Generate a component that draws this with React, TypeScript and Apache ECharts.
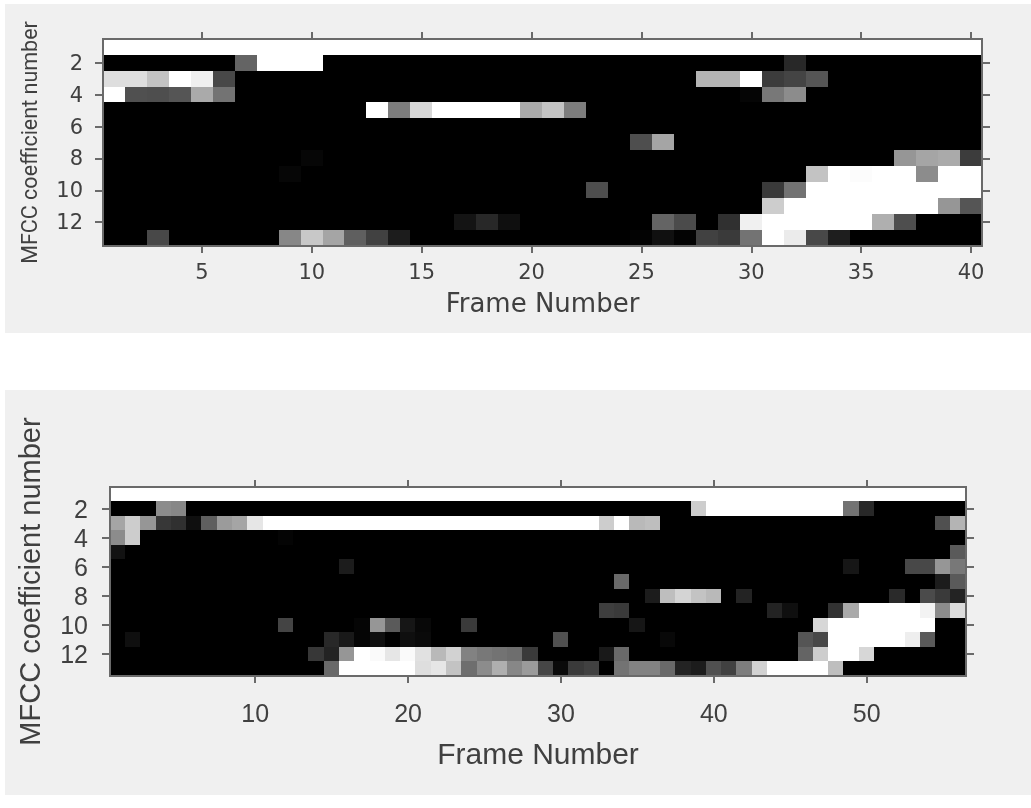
import React, { useEffect, useRef } from "react";
import * as echarts from "echarts";

// Each run: [row, first frame, ...grey levels]. Cells not listed are black.
const upperRuns: number[][] = [
  [1, 1, 255, 255, 255, 255, 255, 255, 255, 255, 255, 255, 255, 255, 255, 255, 255, 255, 255, 255, 255, 255, 255, 255, 255, 255, 255, 255, 255, 255, 255, 255, 255, 255, 255, 255, 255, 255, 255, 255, 255, 255],
  [2, 7, 100, 255, 255, 255],
  [2, 32, 40],
  [3, 1, 222, 222, 195, 255, 240, 72],
  [3, 28, 180, 180, 255, 60, 68, 85],
  [4, 1, 255, 80, 78, 85, 170, 115],
  [4, 30, 5, 120, 140],
  [5, 13, 255, 125, 215, 255, 255, 255, 255, 170, 195, 125],
  [7, 25, 78, 165],
  [8, 10, 6],
  [8, 37, 150, 165, 170, 60],
  [9, 9, 6],
  [9, 33, 195, 255, 252, 255, 255, 140, 255, 255],
  [10, 23, 78],
  [10, 31, 58, 115, 255, 255, 255, 255, 255, 255, 255, 255],
  [11, 31, 205, 255, 255, 255, 255, 255, 255, 255, 150, 85],
  [12, 17, 20, 40, 15],
  [12, 26, 100, 75, 0, 48, 240, 255, 255, 255, 255, 255, 175, 78],
  [13, 3, 72],
  [13, 9, 135, 200, 165, 95, 65, 28],
  [13, 25, 3, 16, 3, 65, 58, 115, 255, 235, 72, 30],
];

const lowerRuns: number[][] = [
  [1, 1, 255, 255, 255, 255, 255, 255, 255, 255, 255, 255, 255, 255, 255, 255, 255, 255, 255, 255, 255, 255, 255, 255, 255, 255, 255, 255, 255, 255, 255, 255, 255, 255, 255, 255, 255, 255, 255, 255, 255, 255, 255, 255, 255, 255, 255, 255, 255, 255, 255, 255, 255, 255, 255, 255, 255, 255],
  [2, 4, 140, 135],
  [2, 39, 205, 255, 255, 255, 255, 255, 255, 255, 255, 255, 115, 40],
  [3, 1, 165, 205, 150, 55, 48, 15, 95, 155, 165, 230, 255, 255, 255, 255, 255, 255, 255, 255, 255, 255, 255, 255, 255, 255, 255, 255, 255, 255, 255, 255, 255, 255, 205, 255, 185, 190],
  [3, 55, 80, 180],
  [4, 1, 140, 205],
  [4, 12, 4],
  [5, 1, 18],
  [5, 56, 90],
  [6, 16, 28],
  [6, 49, 22],
  [6, 53, 72, 72, 150, 120],
  [7, 34, 105],
  [7, 55, 28, 90],
  [8, 36, 28, 190, 212, 195, 185],
  [8, 42, 35],
  [8, 52, 42],
  [8, 54, 75, 58, 35],
  [9, 33, 62, 58],
  [9, 44, 35, 15],
  [9, 48, 50, 170, 255, 255, 255, 255, 243, 140, 220],
  [10, 12, 68],
  [10, 17, 5, 150, 90, 22, 8],
  [10, 24, 58],
  [10, 35, 22],
  [10, 47, 215, 255, 255, 255, 255, 255, 255, 255],
  [11, 2, 15],
  [11, 15, 40, 25, 5, 15, 0, 15, 10],
  [11, 30, 80],
  [11, 37, 8],
  [11, 46, 85, 72, 255, 255, 255, 255, 255, 238, 90],
  [12, 14, 55, 35, 150, 255, 250, 230, 250, 225, 185, 210, 130, 120, 115, 110, 58],
  [12, 33, 25, 105],
  [12, 46, 100, 205, 255, 255, 215],
  [13, 15, 105, 255, 255, 255, 255, 255, 222, 230, 195, 110, 140, 175, 135, 155, 70, 10, 58, 65, 0, 115, 130, 130, 105, 35, 28, 80, 65, 125, 210, 255, 255, 255, 255, 190],
];

const coefficientCount = 13;
const upperFrameCount = 40;
const lowerFrameCount = 56;
const upperFrameStep = 5;
const lowerFrameStep = 10;
const coefficientStep = 2;
const xTitle = "Frame Number";
const yTitle = "MFCC coefficient number";

const TEXT = "#404040";
const LINE = "#6a6a6a";

function cellsFrom(runs: number[][], frames: number): number[][] {
  const grid = new Map<string, number>();
  for (const [row, first, ...levels] of runs) {
    levels.forEach((v, i) => grid.set(`${first + i}-${row}`, v));
  }
  const cells: number[][] = [];
  for (let r = 1; r <= coefficientCount; r++) {
    for (let f = 1; f <= frames; f++) {
      cells.push([f - 1, r - 1, grid.get(`${f}-${r}`) ?? 0]);
    }
  }
  return cells;
}

const labels = (n: number) => Array.from({ length: n }, (_, i) => String(i + 1));
const every = (step: number) => (_: number, value: string) => Number(value) % step === 0;

function axesFor(
  gridIndex: number,
  frames: number,
  xStep: number,
  tickFont: Record<string, unknown>,
  nameFontX: Record<string, unknown>,
  nameFontY: Record<string, unknown>,
  xMargin: number,
  yMargin: number,
  xGap: number,
  yGap: number
) {
  const line = { show: true, onZero: false, lineStyle: { color: LINE, width: 1.5 } };
  const xTick = { show: true, length: 7, alignWithLabel: true, interval: every(xStep), lineStyle: { color: LINE, width: 1.5 } };
  const yTick = { show: true, length: 8, alignWithLabel: true, interval: every(coefficientStep), lineStyle: { color: LINE, width: 1.5 } };
  const xBase = { type: "category", gridIndex, data: labels(frames), axisLine: line, axisTick: xTick, splitLine: { show: false }, z: 5 };
  const yBase = { type: "category", gridIndex, inverse: true, data: labels(coefficientCount), axisLine: line, axisTick: yTick, splitLine: { show: false }, z: 5 };
  return {
    x: [
      {
        ...xBase,
        position: "bottom",
        name: xTitle,
        nameLocation: "middle",
        nameGap: xGap,
        nameTextStyle: { color: TEXT, ...nameFontX },
        axisLabel: { show: true, interval: every(xStep), margin: xMargin, color: TEXT, hideOverlap: false, ...tickFont },
      },
      { ...xBase, position: "top", axisLabel: { show: false } },
    ],
    y: [
      {
        ...yBase,
        position: "left",
        name: yTitle,
        nameLocation: "middle",
        nameGap: yGap,
        nameRotate: 90,
        nameTextStyle: { color: TEXT, ...nameFontY },
        axisLabel: { show: true, interval: every(coefficientStep), margin: yMargin, color: TEXT, hideOverlap: false, ...tickFont },
      },
      { ...yBase, position: "right", axisLabel: { show: false } },
    ],
  };
}

export default function App() {
  const ref = useRef<HTMLDivElement>(null);

  useEffect(() => {
    document.body.style.margin = "0";
    document.body.style.background = "#ffffff";
    const chart = echarts.init(ref.current!, undefined, { renderer: "svg" });

    const upper = axesFor(
      0, upperFrameCount, upperFrameStep,
      { fontFamily: "DejaVu Sans", fontSize: 21 },
      { fontFamily: "DejaVu Sans", fontSize: 26 },
      { fontFamily: "Roboto", fontSize: 21.5 },
      15, 20, 44, 63
    );
    const lower = axesFor(
      1, lowerFrameCount, lowerFrameStep,
      { fontFamily: "Liberation Sans", fontSize: 25 },
      { fontFamily: "Liberation Sans", fontSize: 30 },
      { fontFamily: "Liberation Sans", fontSize: 29 },
      24, 22, 62, 66
    );

    chart.setOption({
      animation: false,
      backgroundColor: "#ffffff",
      graphic: [
        { type: "rect", z: -10, shape: { x: 5, y: 4, width: 1026, height: 329 }, style: { fill: "#f0f0f0" } },
        { type: "rect", z: -10, shape: { x: 5, y: 390, width: 1026, height: 405 }, style: { fill: "#f0f0f0" } },
      ],
      grid: [
        { left: 103, top: 39, width: 879, height: 207, outerBoundsMode: "none" },
        { left: 110, top: 487, width: 856, height: 189, outerBoundsMode: "none" },
      ],
      xAxis: [...upper.x, ...lower.x],
      yAxis: [...upper.y, ...lower.y],
      visualMap: {
        show: false,
        type: "continuous",
        min: 0,
        max: 255,
        dimension: 2,
        seriesIndex: [0, 1],
        inRange: { color: ["#000000", "#ffffff"] },
      },
      series: [
        {
          type: "heatmap",
          xAxisIndex: 0,
          yAxisIndex: 0,
          data: cellsFrom(upperRuns, upperFrameCount),
          emphasis: { disabled: true },
          progressive: 0,
        },
        {
          type: "heatmap",
          xAxisIndex: 2,
          yAxisIndex: 2,
          data: cellsFrom(lowerRuns, lowerFrameCount),
          emphasis: { disabled: true },
          progressive: 0,
        },
      ],
    });

    return () => chart.dispose();
  }, []);

  return (
    <>
      <style>{"svg path{shape-rendering:crispEdges}"}</style>
      <div ref={ref} style={{ width: 1031, height: 808, filter: "blur(0.5px)" }} />
    </>
  );
}
